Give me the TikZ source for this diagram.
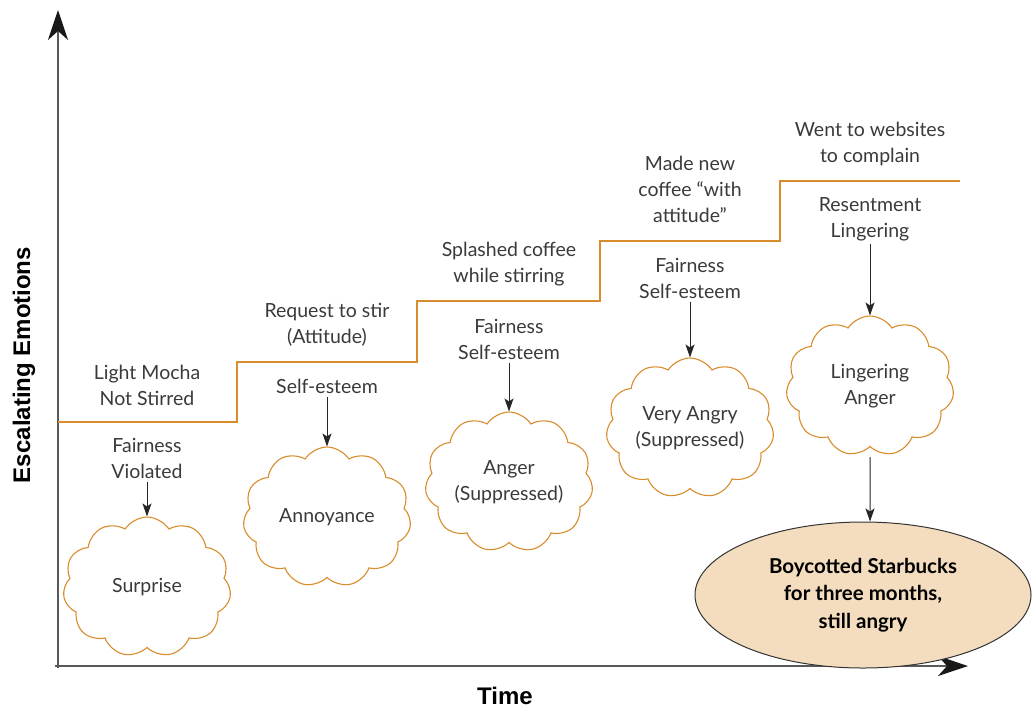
\documentclass[tikz,border=0pt]{standalone}
\usepackage{fontspec}
\setmainfont{Lato}
\newfontfamily\axisfont{Liberation Sans}
\usepackage{tikz}
\usetikzlibrary{shapes.symbols,shapes.geometric,arrows.meta}
\definecolor{stepline}{HTML}{D98C2B}
\definecolor{labeltext}{HTML}{3A3A3A}
\definecolor{outcome}{HTML}{F4DDBF}
\tikzset{every node/.style={font=\fontsize{19.5}{26}\selectfont,text=labeltext,align=center},
  feeling/.style={cloud,cloud puffs=11,cloud puff arc=115,cloud ignores aspect,draw=stepline,line width=1.1pt,minimum width=168pt,minimum height=140pt},
  pointer/.style={-{Stealth[length=13pt,width=9pt,inset=3pt]},line width=1pt,black!85},
  axis/.style={black!65,line width=1.3pt,-{Stealth[length=30pt,width=20pt,inset=9pt,color=black!90]}}}

\begin{document}
\begin{tikzpicture}[x=1pt,y=-1pt]
    \useasboundingbox (0,0) rectangle (1032,713);
    % axes
    \coordinate (o) at (58,666);
    \coordinate (ytop) at (58,10);
    \coordinate (xend) at (968,666);
    \draw[axis] (58,668) -- (ytop);
    \draw[axis] (55,666) -- (xend);
    \node[font=\axisfont\bfseries\fontsize{24}{28}\selectfont,text=black] (time) at (505,696) {Time};
    \node[font=\axisfont\bfseries\fontsize{24}{28}\selectfont,text=black,rotate=90] (emo) at (24,365) {Escalating Emotions};
    % steps
    \draw[stepline,line width=1.3pt] (58,422) -| (237,362) -| (417,301) -| (600,241) -| (780,181) -- (960,181);
    \node (e1) at (147,385) {Light Mocha\\Not Stirred};
    \node (e2) at (327,325) {Request to stir\\(Attitude)};
    \node (e3) at (509,264) {Splashed coffee\\while stirring};
    \node (e4) at (690,189) {Made new\\coffee ``with\\attitude''};
    \node (e5) at (870,144) {Went to websites\\to complain};
    % triggers
    \node (t1) at (147,458) {Fairness\\Violated};
    \node (t2) at (327,386) {Self-esteem};
    \node (t3) at (509,339) {Fairness\\Self-esteem};
    \node (t4) at (690,278) {Fairness\\Self-esteem};
    \node (t5) at (870,219) {Resentment\\Lingering};
    % feelings
    \node[feeling] (c1) at (147,587) {Surprise};
    \node[feeling] (c2) at (327,517) {Annoyance};
    \node[feeling] (c3) at (509,482) {Anger\\(Suppressed)};
    \node[feeling] (c4) at (690,428) {Very Angry\\(Suppressed)};
    \node[feeling] (c5) at (870,386) {Lingering\\Anger};
    \node[ellipse,draw=black!80,line width=1pt,fill=outcome,text=black,minimum width=336pt,minimum height=146pt,font=\bfseries\fontsize{20.5}{27.5}\selectfont] (end) at (863,595) {Boycotted Starbucks\\for three months,\\still angry};
    \path
    (t1) edge[pointer] (c1)
    (t2) edge[pointer] (c2)
    (t3) edge[pointer] (c3)
    (t4) edge[pointer] (c4)
    (t5) edge[pointer] (c5)
    (c5) edge[pointer,shorten <=10pt] (c5 |- end.north)
    ;
\end{tikzpicture}
\end{document}
